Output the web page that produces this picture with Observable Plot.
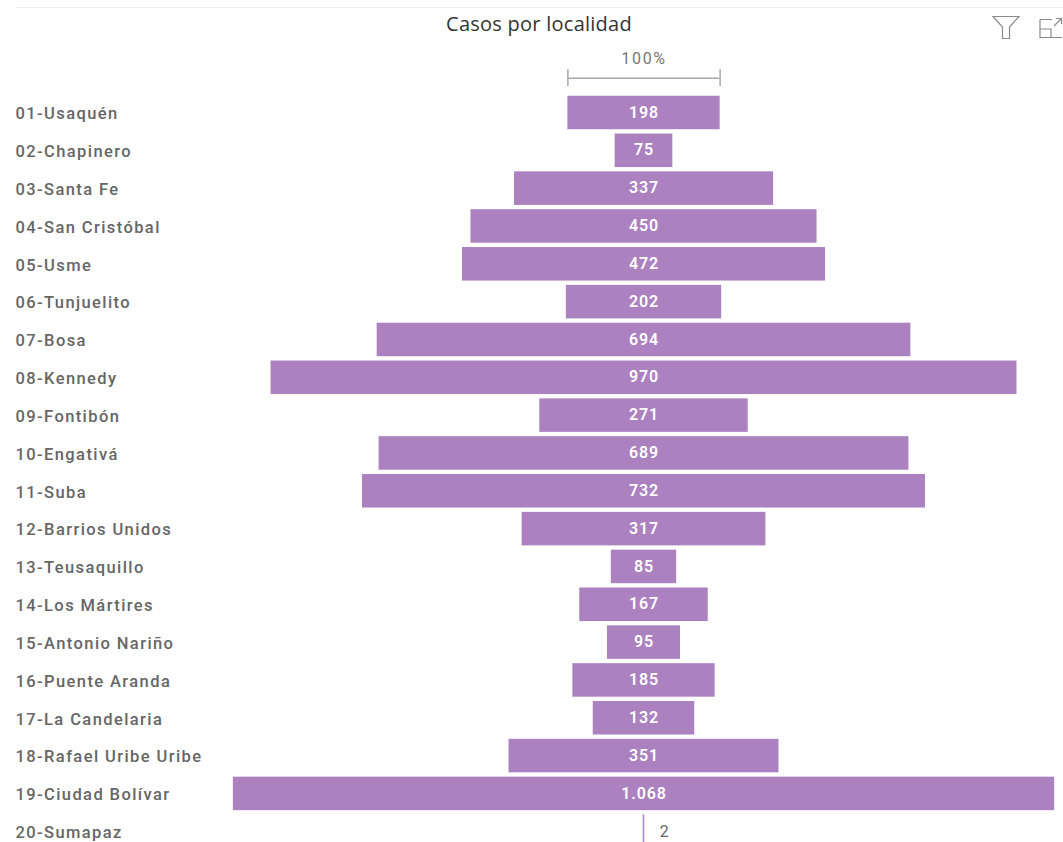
<!DOCTYPE html>
<html><head><meta charset="utf-8">
<script src="https://cdn.jsdelivr.net/npm/d3@7"></script>
<script src="https://cdn.jsdelivr.net/npm/@observablehq/plot@0.6"></script>
<style>
html,body{margin:0;padding:0;background:#fff;overflow:hidden}
#wrap{position:relative;width:1063px;height:842px;overflow:hidden}
#rule{position:absolute;left:15px;right:0;top:7px;height:1px;background:#eeeeee}
#title{position:absolute;left:339px;width:400px;top:10px;text-align:center;font:20px "Open Sans",sans-serif;letter-spacing:.25px;color:#333}
#icons{position:absolute;left:985px;top:10px}
svg{display:block}
.cat text{letter-spacing:1.4px}
.val text{letter-spacing:.9px}
.ref text{letter-spacing:1.7px}
</style></head><body>
<div id="wrap"><div id="rule"></div><div id="title">Casos por localidad</div>
<svg id="icons" width="78" height="34" fill="none" stroke="#8a8a8a" stroke-width="1.2">
<path d="M8 6.5H34L24.5 17V28.5H17.5V17Z"/>
<path d="M55 9.5H67M55 9.5V27.5H77M55 19H66V27.5M69 16L76 9M71 8.5H76.5V14"/>
</svg>
<div id="chart"></div></div>
<script>
const names = ["01-Usaquén","02-Chapinero","03-Santa Fe","04-San Cristóbal","05-Usme","06-Tunjuelito","07-Bosa","08-Kennedy","09-Fontibón","10-Engativá","11-Suba","12-Barrios Unidos","13-Teusaquillo","14-Los Mártires","15-Antonio Nariño","16-Puente Aranda","17-La Candelaria","18-Rafael Uribe Uribe","19-Ciudad Bolívar","20-Sumapaz"];
const cases = [198,75,337,450,472,202,694,970,271,689,732,317,85,167,95,185,132,351,1068,2];
const referenceLabel = "100%";
const reference = cases[0];

const rows = names.map((name,i)=>({name,value:cases[i],label:d3.format(",")(cases[i]).replace(/,/g,".")}));
const inside = rows.filter(d=>d.value>=10), outside = rows.filter(d=>d.value<10);
const half = d=>d.value/2;
const fontF = '"Roboto",sans-serif';

const chart = Plot.plot({
  width:1063,height:842,margin:0,
  style:{background:"transparent",overflow:"hidden"},
  x:{axis:null,domain:[-836.8,545.5],range:[0,1063]},
  y:{axis:null,domain:[referenceLabel,...names],range:[57.9,848],paddingInner:0.114,paddingOuter:0,round:false},
  marks:[
    Plot.barX(rows,{y:"name",x1:d=>-half(d),x2:half,fill:"#ac81bf"}),
    Plot.text(names,{className:"cat",y:d=>d,frameAnchor:"left",dx:15,dy:1,textAnchor:"start",fill:"#666",fontFamily:fontF,fontSize:16.5,fontWeight:500,text:d=>d}),
    Plot.text(inside,{className:"val",y:"name",x:()=>0,dy:-0.5,text:"label",fill:"#fff",fontFamily:fontF,fontWeight:600,fontSize:16}),
    Plot.text(outside,{y:"name",x:half,text:"label",textAnchor:"start",dx:15,fill:"#666",fontFamily:fontF,fontSize:16}),
    Plot.ruleY([referenceLabel],{y:d=>d,x1:-reference/2,x2:reference/2,stroke:"#aaa",strokeWidth:1.5,dy:3}),
    Plot.tickX([-reference/2,reference/2],{x:d=>d,y:()=>referenceLabel,stroke:"#aaa",strokeWidth:1.5,insetTop:11,insetBottom:5.4}),
    Plot.text([referenceLabel],{className:"ref",x:()=>0,y:d=>d,text:d=>d,dy:-16,fill:"#777",fontFamily:fontF,fontSize:16})
  ]
});
document.getElementById("chart").append(chart);
</script></body></html>
